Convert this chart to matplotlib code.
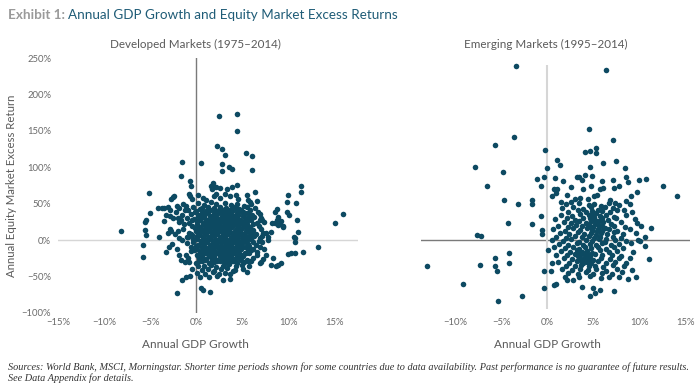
import matplotlib
matplotlib.use("Agg")
import matplotlib.pyplot as plt

plt.rcParams['font.family'] = ['Lato', 'DejaVu Sans']

# Developed markets: (annual GDP growth %, equity excess return %)
dev_points = [
    # sparse / outliers
    (-8.2, 12), (-5.1, 65), (-5.0, 37), (-5.4, 27), (-5.5, 25), (-5.6, 14), (-5.4, 7), (-5.8, -7), (-5.8, -23),
    (-4.0, 4), (-4.1, 44), (-3.7, 44), (-3.5, 44), (-3.3, -16), (-2.9, -9), (-2.8, 41), (-2.8, 33), (-2.7, 13),
    (-2.4, 61), (-2.5, 59), (-2.7, 56), (-2.1, 47), (-1.5, 107), (-1.6, 88), (-0.7, 81), (-0.6, 74), (-0.8, 64),
    (-1.1, 47), (-0.9, 42), (0.5, 106), (-2.1, -73), (-1.5, -55), (-1.1, -51), (-0.7, -49), (0.5, -65), (0.8, -69),
    (1.5, -71), (2.5, 170), (4.4, 173), (4.4, 150), (2.3, 129), (2.8, 125), (3.2, 117), (5.4, 119), (6.1, 115),
    (2.8, 104), (3.6, 100), (3.9, 97), (2.8, 95), (6.1, 96),
    (1.8, 78), (1.6, 75), (1.9, 73), (2.2, 73), (2.6, 71), (1.7, 70), (3.4, 70), (3.9, 73), (4.5, 76), (6.4, 66), (5.5, 62),
    (11.4, 74), (11.4, 66), (10.0, 62), (9.9, 52), (10.9, 51), (8.8, 43), (8.6, 38), (8.9, 32), (9.9, 38), (10.1, 35),
    (11.0, 28), (8.3, 23), (8.6, 24), (8.9, 21), (9.2, 26), (9.4, 20), (9.5, 18), (8.8, 27), (9.1, 22),
    (7.0, 28), (7.2, 27), (7.1, 30), (7.3, 10), (7.2, 6), (7.0, 3), (7.2, -2), (7.4, -12), (7.6, -20), (7.3, -26),
    (7.1, -30), (7.0, -32), (8.2, 11), (11.1, 11), (10.6, 4), (10.8, 3), (10.7, -2), (15.1, 23), (16.0, 36),
    (13.2, -9), (11.6, -16), (10.7, -17), (10.3, -18), (10.0, -19),
    (8.4, -24), (9.2, -31), (8.9, -34), (8.7, -36), (8.2, -34), (5.5, -44), (3.7, -47), (2.9, -55), (3.7, -53),
    (-2.0, 30), (-1.8, 25), (-1.5, 35), (-1.3, 22), (-1.6, 28), (-2.3, 8), (-2.0, 12), (-1.8, 3), (-1.4, 15),
    (-1.0, 5), (-0.8, 10), (-2.1, -12), (-1.9, -20), (-1.6, -27), (-1.2, -30), (-0.9, -25), (-0.6, -15),
    (-0.7, 60), (-0.4, 57), (0.2, 62), (0.8, 58), (1.1, 55), (1.9, 60), (2.2, 64), (2.6, 58), (3.1, 63),
    (3.7, 60), (4.3, 62), (4.6, 57), (5.6, 55), (5.9, 53), (6.6, 54),
    # main cluster
    (-1.4, 49), (0.2, 51), (0.9, 48), (1.6, 52), (2.2, 49), (3.1, 51), (3.8, 48), (4.5, 50), (5.2, 47), (6.0, 50),
    (-3.1, 45), (-1.8, 44), (-0.3, 46), (0.6, 44), (1.3, 46), (2.0, 43), (2.6, 46), (3.3, 44), (4.0, 46), (4.7, 43),
    (5.5, 45), (6.4, 44),
    (-2.2, 39), (-1.2, 41), (0.0, 40), (0.8, 38), (1.5, 41), (2.1, 39), (2.8, 41), (3.4, 38), (3.9, 40), (4.4, 42),
    (5.1, 39), (5.9, 41), (6.7, 38),
    (-3.3, 35), (-0.6, 36), (0.3, 34), (1.0, 36), (1.7, 33), (2.3, 36), (2.9, 34), (3.5, 36), (4.1, 33), (4.6, 35),
    (5.3, 37), (6.1, 34), (7.0, 36),
    (-2.5, 30), (-1.0, 31), (-0.2, 29), (0.5, 31), (1.2, 28), (1.9, 31), (2.5, 29), (3.0, 32), (3.6, 29), (4.2, 31),
    (4.8, 28), (5.5, 30), (6.3, 32),
    (-3.5, 26), (-0.8, 24), (0.1, 26), (0.8, 23), (1.4, 26), (2.0, 24), (2.6, 27), (3.2, 24), (3.8, 26), (4.4, 23),
    (5.0, 25), (5.7, 27), (6.6, 24), (7.4, 25),
    (-0.4, 20), (0.4, 18), (1.1, 21), (1.7, 19), (2.3, 21), (2.9, 18), (3.4, 20), (4.0, 22), (4.6, 19), (5.2, 21),
    (5.9, 18), (6.8, 20),
    (-2.8, 15), (-0.1, 16), (0.7, 14), (1.3, 16), (1.9, 13), (2.5, 16), (3.1, 14), (3.7, 16), (4.3, 13), (4.9, 15),
    (5.5, 17), (6.2, 14), (7.1, 15),
    (-3.0, 10), (-0.6, 9), (0.3, 11), (1.0, 8), (1.6, 11), (2.2, 9), (2.8, 11), (3.3, 8), (3.9, 10), (4.5, 12),
    (5.1, 9), (5.8, 11), (6.5, 8), (7.6, 10),
    (-0.9, 4), (0.1, 6), (0.8, 3), (1.4, 5), (2.0, 7), (2.6, 4), (3.2, 6), (3.8, 3), (4.4, 5), (5.0, 7), (5.6, 4),
    (6.3, 6), (7.8, 5),
    (-1.5, 0), (-0.3, 1), (0.5, -1), (1.2, 1), (1.8, -2), (2.4, 0), (3.0, 2), (3.5, -1), (4.1, 1), (4.7, -2),
    (5.3, 0), (6.0, 2), (6.8, -1), (7.8, 0),
    (-2.6, -5), (-1.0, -4), (0.2, -6), (0.9, -4), (1.5, -7), (2.1, -5), (2.7, -3), (3.3, -6), (3.9, -4), (4.5, -6),
    (5.1, -3), (5.7, -5), (6.5, -7),
    (-0.5, -10), (0.6, -9), (1.2, -11), (1.8, -8), (2.4, -10), (3.0, -12), (3.6, -9), (4.2, -11), (4.8, -8),
    (5.4, -10), (6.2, -12), (7.0, -10),
    (-0.2, -14), (0.4, -16), (1.0, -13), (1.6, -15), (2.2, -17), (2.8, -14), (3.4, -16), (4.0, -13), (4.6, -15),
    (5.3, -17), (6.0, -14), (6.6, -16),
    (-1.1, -20), (0.1, -21), (0.8, -19), (1.4, -22), (2.0, -20), (2.6, -18), (3.2, -21), (3.8, -19), (4.4, -22),
    (5.0, -20), (5.8, -18), (6.6, -21),
    (0.3, -25), (1.1, -26), (1.7, -24), (2.3, -27), (2.9, -25), (3.5, -23), (4.1, -26), (4.7, -24), (5.5, -27),
    (6.2, -25),
    (-0.8, -30), (0.0, -31), (0.7, -29), (1.4, -32), (2.0, -30), (2.6, -28), (3.2, -31), (3.8, -29), (4.5, -32),
    (5.2, -30), (6.0, -29),
    (0.2, -35), (0.9, -36), (1.6, -34), (2.2, -37), (2.9, -35), (3.6, -33), (4.3, -36), (5.0, -34), (5.8, -36),
    (-0.4, -40), (0.6, -41), (1.3, -39), (2.0, -42), (2.7, -40), (3.4, -38), (4.2, -41), (5.1, -39),
    (0.1, -45), (1.0, -46), (1.8, -44), (2.5, -47), (3.2, -45), (4.0, -43),
    (0.4, -50), (1.4, -51), (2.3, -49),
    (1.5, 2), (2.3, 12), (3.6, 23), (2.7, -8), (3.9, -17), (1.9, 27), (4.3, 8), (3.1, -22), (2.1, 17), (4.8, -4),
    (1.3, -18), (3.4, 13), (2.9, 30), (4.5, 26), (1.7, -27), (3.7, -3), (2.5, 22), (4.0, -29), (1.1, 14), (3.0, 7),
    # densest part of the cluster
    (0.4, 43), (1.2, 42), (1.9, 44), (2.5, 42), (3.1, 43), (3.7, 42), (4.3, 44), (4.9, 42),
    (-0.1, 38), (0.7, 37), (1.3, 38), (2.0, 37), (2.6, 38), (3.2, 37), (3.8, 38), (4.4, 37), (5.0, 38), (5.7, 37),
    (0.2, 33), (0.9, 32), (1.5, 33), (2.2, 32), (2.8, 33), (3.4, 32), (3.9, 33), (4.5, 32), (5.1, 33), (5.8, 32),
    (-0.4, 28), (0.4, 27), (1.1, 28), (1.7, 27), (2.3, 28), (2.9, 27), (3.5, 28), (4.1, 27), (4.7, 28), (5.3, 27),
    (6.0, 28),
    (0.1, 22), (0.8, 22), (1.4, 23), (2.0, 22), (2.6, 23), (3.2, 22), (3.8, 23), (4.3, 22), (4.9, 23), (5.5, 22),
    (6.2, 22),
    (0.3, 17), (1.0, 17), (1.6, 18), (2.2, 17), (2.8, 18), (3.3, 17), (3.9, 18), (4.5, 17), (5.1, 18), (5.8, 17),
    (0.0, 12), (0.7, 12), (1.3, 13), (1.9, 12), (2.5, 13), (3.1, 12), (3.6, 13), (4.2, 12), (4.8, 13), (5.4, 12),
    (6.1, 12),
    (-0.4, 7), (0.4, 7), (1.1, 8), (1.7, 7), (2.3, 8), (2.9, 7), (3.5, 8), (4.1, 7), (4.7, 8), (5.3, 7), (6.0, 8),
    (0.1, 2), (0.8, 2), (1.5, 3), (2.1, 2), (2.7, 3), (3.3, 2), (3.8, 3), (4.4, 2), (5.0, 3), (5.7, 2),
    (-0.3, -2), (0.5, -3), (1.2, -2), (1.8, -3), (2.4, -2), (3.0, -3), (3.6, -2), (4.2, -3), (4.8, -2), (5.4, -3),
    (6.2, -3),
    (0.0, -8), (0.9, -8), (1.5, -9), (2.1, -8), (2.7, -9), (3.3, -8), (3.9, -9), (4.5, -8), (5.1, -9), (5.8, -8),
    (0.1, -12), (0.7, -13), (1.3, -12), (1.9, -13), (2.5, -12), (3.1, -13), (3.7, -12), (4.3, -13), (4.9, -12),
    (5.7, -13),
    (0.4, -18), (1.1, -17), (1.7, -18), (2.3, -17), (2.9, -18), (3.5, -17), (4.1, -18), (4.7, -17), (5.4, -18),
    (0.6, -23), (1.4, -22), (2.0, -23), (2.6, -22), (3.2, -23), (3.8, -22), (4.4, -23), (5.1, -22),
    (0.3, -28), (1.0, -27), (1.7, -28), (2.3, -29), (2.9, -28), (3.5, -27), (4.2, -28), (4.9, -27), (5.7, -28),
]

# Emerging markets: (annual GDP growth %, equity excess return %)
emg_points = [
    # sparse / outliers
    (-3.4, 239), (6.4, 233), (4.5, 153), (7.1, 138), (-3.6, 142), (-5.7, 131), (-0.2, 124), (4.1, 121), (4.6, 123),
    (5.3, 127), (5.3, 120), (-7.8, 101), (-4.8, 94), (1.1, 110), (1.4, 103), (0.0, 99), (-6.5, 75), (-4.7, 55),
    (-3.2, 50), (-1.6, 55), (-1.6, 50), (-1.1, 84), (-0.7, 74), (-0.3, 86),
    (0.8, 85), (1.7, 81), (0.7, 70), (1.1, 70), (0.9, 65), (0.5, 61), (2.1, 62), (2.6, 73), (3.2, 87), (3.4, 86),
    (4.1, 89), (4.6, 100), (6.1, 106), (7.5, 109), (8.4, 99),
    (4.9, 88), (6.0, 81), (7.1, 83), (8.5, 87), (8.8, 80), (10.0, 83), (10.7, 84), (3.8, 82), (3.9, 70), (4.7, 74),
    (5.7, 70), (6.1, 72), (7.2, 72), (7.8, 74),
    (12.6, 75), (14.1, 60), (9.7, 66), (9.1, 60), (-0.7, 33), (-1.7, 22), (-4.3, 24), (-0.6, 14), (-0.6, 8),
    (-7.6, 7), (-7.2, 6),
    (-13.0, -35), (-9.1, -60), (-5.3, -84), (-2.7, -76), (-7.3, -34), (-5.7, -25), (-5.7, -35), (-5.4, -43),
    (-4.2, -18), (-4.1, -31),
    (-0.4, -43), (-0.4, -65), (0.1, -13), (0.5, -31), (0.4, -42), (0.7, -61), (0.9, -60),
    (11.0, -26), (10.6, -8), (10.1, -1), (9.9, 0), (11.3, 16), (10.6, 5), (9.6, -50), (8.8, -54), (7.3, -70),
    (6.7, -50), (4.6, -77), (5.0, -66), (5.7, -69), (5.2, -72), (3.8, -64), (2.2, -55), (2.8, -55),
    (2.6, 52), (3.6, 58), (4.4, 56), (5.4, 62), (6.8, 55), (7.4, 51), (8.6, 54), (1.5, 53), (3.0, 56), (5.1, 60),
    # main cluster
    (2.0, 49), (3.5, 51), (4.5, 48), (5.1, 50), (5.8, 47), (6.7, 51), (7.8, 48), (9.0, 50),
    (1.6, 44), (2.8, 46), (3.9, 43), (4.8, 45), (5.5, 42), (6.3, 46), (7.1, 44), (8.3, 42),
    (2.3, 39), (3.3, 41), (4.2, 38), (4.9, 40), (5.3, 37), (6.0, 40), (6.8, 38), (7.6, 41), (9.2, 39),
    (1.5, 35), (2.7, 33), (3.6, 36), (4.5, 34), (5.0, 36), (5.7, 33), (6.4, 35), (7.3, 32), (8.6, 35),
    (0.8, 29), (2.1, 31), (3.0, 28), (3.9, 30), (4.6, 31), (5.2, 28), (5.9, 30), (6.6, 27), (7.5, 30), (9.5, 29),
    (1.8, 25), (2.6, 23), (3.4, 26), (4.2, 24), (4.8, 26), (5.4, 23), (6.1, 25), (6.9, 22), (8.0, 25), (9.8, 24),
    (1.2, 20), (2.3, 18), (3.1, 21), (3.8, 19), (4.4, 21), (5.0, 18), (5.6, 20), (6.3, 17), (7.2, 20), (8.4, 18),
    (10.2, 20),
    (0.6, 15), (1.9, 13), (2.8, 16), (3.6, 14), (4.3, 16), (4.9, 13), (5.5, 15), (6.0, 12), (6.7, 15), (7.6, 13),
    (9.0, 15),
    (1.4, 10), (2.4, 8), (3.3, 11), (4.0, 9), (4.7, 10), (5.3, 7), (5.8, 10), (6.5, 8), (7.3, 11), (8.2, 9), (9.6, 10),
    (0.9, 5), (2.0, 3), (3.0, 6), (3.8, 4), (4.5, 6), (5.1, 3), (5.7, 5), (6.4, 2), (7.1, 5), (8.0, 3),
    (0.5, 0), (1.7, -1), (2.6, 1), (3.5, -2), (4.2, 0), (4.9, -1), (5.6, 1), (6.3, -2), (7.4, 0), (8.5, -1),
    (1.3, -5), (2.3, -6), (3.2, -4), (3.9, -7), (4.6, -5), (5.3, -6), (6.0, -4), (6.9, -6), (7.8, -5), (9.1, -4),
    (0.7, -10), (1.9, -11), (2.8, -9), (3.5, -12), (4.1, -10), (4.8, -11), (5.5, -9), (6.4, -12), (7.3, -10),
    (8.2, -11),
    (1.5, -15), (2.5, -16), (3.2, -14), (3.8, -16), (4.3, -15), (4.9, -17), (5.7, -14), (6.7, -16), (7.6, -15),
    (9.3, -16),
    (1.0, -20), (2.2, -21), (3.0, -19), (3.6, -21), (4.1, -20), (4.6, -22), (5.2, -19), (6.0, -21), (7.0, -20),
    (8.0, -22),
    (1.8, -25), (2.7, -26), (3.4, -24), (3.9, -26), (4.4, -25), (5.0, -27), (5.8, -24), (6.8, -26), (7.8, -25),
    (9.0, -24),
    (1.2, -30), (2.4, -31), (3.2, -29), (3.8, -31), (4.3, -30), (4.8, -32), (5.5, -29), (6.4, -31), (7.4, -30),
    (8.6, -32),
    (2.0, -35), (3.0, -36), (3.7, -34), (4.5, -36), (5.2, -35), (6.1, -37), (7.1, -34), (8.3, -36),
    (1.6, -40), (2.7, -41), (3.6, -39), (4.4, -41), (5.3, -40), (6.4, -42), (7.6, -39), (9.2, -41),
    (2.3, -45), (3.3, -46), (4.2, -44), (5.0, -46), (6.0, -45), (7.0, -47), (8.1, -44),
    (1.9, -50), (3.4, -51), (4.6, -49), (5.8, -52), (7.8, -50),
    (3.3, -22), (3.7, -27), (4.0, -18), (4.2, -24), (3.9, -31), (4.5, -21), (3.5, -17), (4.7, -28), (4.9, 15),
    (5.2, 22), (5.6, 26), (4.8, 28), (5.4, 12), (5.9, 19), (4.6, 20), (5.1, 32),
]

dev_gdp, dev_ret = zip(*dev_points)
emg_gdp, emg_ret = zip(*emg_points)

y_ticks = [-100, -50, 0, 50, 100, 150, 200, 250]
dev_x_ticks = [-15, -10, -5, 0, 5, 10, 15]
emg_x_ticks = [-10, -5, 0, 5, 10, 15]

DOT = '#0d4a62'
DARK_LINE = '#7a7a7a'
LIGHT_LINE = '#d6d6d6'
TICK_COL = '#6a6a6a'
LABEL_COL = '#5a5a5a'


def pct(v):
    return f"{v}%".replace('-', '\u2212')


def style_axes(ax, xlim, xticks):
    for s in ax.spines.values():
        s.set_visible(False)
    ax.set_xlim(*xlim)
    ax.set_ylim(-100, 250)
    ax.set_xticks(xticks)
    ax.set_xticklabels([pct(v) for v in xticks])
    ax.tick_params(length=0, labelsize=6.8, labelcolor=TICK_COL, pad=5)
    ax.tick_params(axis='x', pad=3.5)


fig = plt.figure(figsize=(7.0, 3.91), dpi=100)

# developed
ax1 = fig.add_axes([58 / 700, 78 / 391, 300 / 700, 255 / 391])
style_axes(ax1, (-15, 17.6), dev_x_ticks)
ax1.set_yticks(y_ticks)
ax1.set_yticklabels([pct(v) for v in y_ticks])
ax1.axhline(0, color=LIGHT_LINE, lw=1.0, zorder=1)
ax1.axvline(0, color=DARK_LINE, lw=1.0, zorder=1)
ax1.scatter(dev_gdp, dev_ret, s=16, color=DOT, linewidths=0, zorder=3)
ax1.set_ylabel('Annual Equity Market Excess Return', fontsize=8.2, color=LABEL_COL, labelpad=3)

# emerging
ax2 = fig.add_axes([421 / 700, 78 / 391, 269 / 700, 255 / 391])
style_axes(ax2, (-13.7, 15.5), emg_x_ticks)
ax2.set_yticks([])
ax2.axhline(0, color=DARK_LINE, lw=1.0, zorder=1)
ax2.vlines(0, -94, 240, color=LIGHT_LINE, lw=1.5, zorder=1)
ax2.scatter(emg_gdp, emg_ret, s=16, color=DOT, linewidths=0, zorder=3)

# panel titles and x labels, centred on the 0% line like the original
fig.text(195 / 700, 1 - 44 / 391, 'Developed Markets (1975\u20132014)', ha='center', va='center',
         fontsize=8.4, color=LABEL_COL)
fig.text(546 / 700, 1 - 44 / 391, 'Emerging Markets (1995\u20132014)', ha='center', va='center',
         fontsize=8.4, color=LABEL_COL)
fig.text(195 / 700, 1 - 345 / 391, 'Annual GDP Growth', ha='center', va='center', fontsize=8.5, color=LABEL_COL)
fig.text(547 / 700, 1 - 345 / 391, 'Annual GDP Growth', ha='center', va='center', fontsize=8.5, color=LABEL_COL)

# title: grey bold prefix + teal text
t1 = fig.text(8 / 700, 1 - 15 / 391, 'Exhibit 1:', ha='left', va='center', fontsize=9.7,
              fontweight='bold', color='#9a9a9a')
fig.canvas.draw()
bb = t1.get_window_extent(fig.canvas.get_renderer())
fig.text((bb.x1 + 3) / 700, 1 - 15 / 391, 'Annual GDP Growth and Equity Market Excess Returns', ha='left',
         va='center', fontsize=9.7, color='#1f5c77')

# footnote
note = ('Sources: World Bank, MSCI, Morningstar. Shorter time periods shown for some countries due to data '
        'availability. Past performance is no guarantee of future results.\nSee Data Appendix for details.')
fig.text(8 / 700, 1 - 362 / 391, note, ha='left', va='top', fontsize=7.35, style='italic',
         family=['Liberation Serif', 'DejaVu Serif'], color='#333333', linespacing=1.2)

fig.savefig('out.png', dpi=100)
